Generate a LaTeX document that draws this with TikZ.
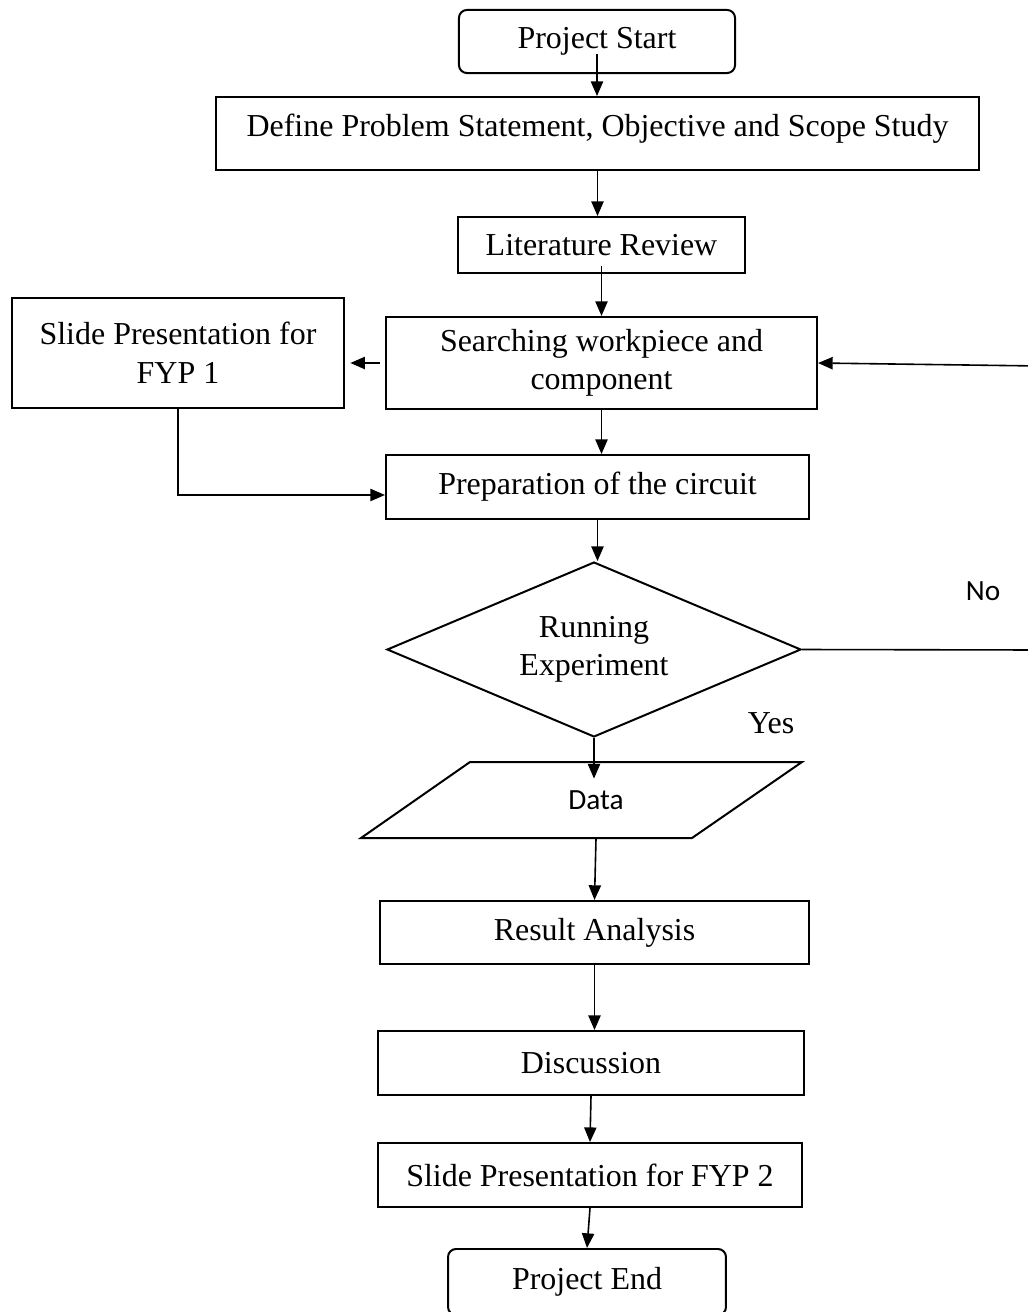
\documentclass[tikz,border=0pt]{standalone}
\usepackage{fontspec}
\setmainfont{Liberation Serif}
\newfontfamily\calibri{Carlito}
\usetikzlibrary{arrows.meta,shapes.geometric}

\begin{document}
\begin{tikzpicture}[x=0.3756pt, y=-0.3756pt, >={Triangle[length=5.5pt,width=4.6pt]},
  font=\fontsize{12}{14.5}\selectfont,
  box/.style={draw, line width=0.75pt, inner sep=2pt, align=center},
  term/.style={box, rounded corners=3pt},
  decision/.style={draw, diamond, aspect=2.37, inner sep=1pt, line width=0.75pt, align=center,
    minimum width=155.5pt, minimum height=65.7pt},
  flow/.style={->, line width=0.6pt},
  sans/.style={font=\calibri\fontsize{11}{13}\selectfont}]
  \useasboundingbox (0,0) rectangle (1027,1312);
  \node[term, minimum width=103.7pt, minimum height=23.7pt] (S) at (597,41.5) {Project Start};
  \node[box, minimum width=286.6pt, minimum height=27.4pt, text depth=6.4pt] (DP) at (597.5,133.5) {Define Problem Statement, Objective and Scope Study};
  \node[box, minimum width=107.8pt, minimum height=21pt] (LR) at (601.5,245) {Literature Review};
  \node[box, minimum width=124.7pt, minimum height=41.3pt] (SP1) at (178,353) {Slide Presentation for\\FYP 1};
  \node[box, minimum width=161.9pt, minimum height=34.6pt] (SW) at (601.5,363) {Searching workpiece and\\component};
  \node[box, minimum width=158.9pt, minimum height=24pt] (PC) at (597.5,487) {Preparation of the circuit};
  \node[decision] (RE) at (594,649.5) {Running\\Experiment};
  \node[sans, minimum height=28.5pt] (DA) at (596,800) {Data};
  \draw[line width=0.75pt] (470,762) -- (802,762) -- (692,838) -- (361,838) -- cycle;
  \node[box, minimum width=161.1pt, minimum height=23.7pt] (RA) at (594.5,932.5) {Result Analysis};
  \node[box, minimum width=160pt, minimum height=24pt] (DI) at (591,1063) {Discussion};
  \node[box, minimum width=159.3pt, minimum height=24pt] (SP2) at (590,1175) {Slide Presentation for FYP 2};
  \node[term, minimum width=104.4pt, minimum height=24.8pt] (E) at (587,1282) {Project End};
  \node (Y) at (771,723) {Yes};
  \node[sans] (N) at (983,591) {No};
  \coordinate (NB) at (1040,650);
  \coordinate (NT) at (1040,366);
  \draw[flow] ([yshift=7.5pt]S.south) -- (S.south |- DP.north);
  \draw[flow] (DP.south) -- (DP.south |- LR.north);
  \draw[flow] ([yshift=3pt]LR.south) -- (LR.south |- SW.north);
  \draw[flow] ([xshift=-2pt]SW.west) -- ([xshift=2pt]SP1.east |- SW.west);
  \draw[flow] (SW.south) -- (SW.south |- PC.north);
  \draw[flow] (SP1.south) |- ([yshift=-3pt]PC.west);
  \draw[flow] (PC.south) -- (PC.south |- RE.north);
  \draw[flow] (RE.south) -- ([yshift=-6.4pt]RE.south |- DA.north);
  \draw[flow] (DA.south) -- (RA.north);
  \draw[flow] (RA.south) -- (RA.south |- DI.north);
  \draw[flow] (DI.south) -- (SP2.north);
  \draw[flow] (SP2.south) -- (E.north);
  \draw[flow] (RE.east) -- (NB) -- (NT) -- (SW.east);
\end{tikzpicture}
\end{document}
